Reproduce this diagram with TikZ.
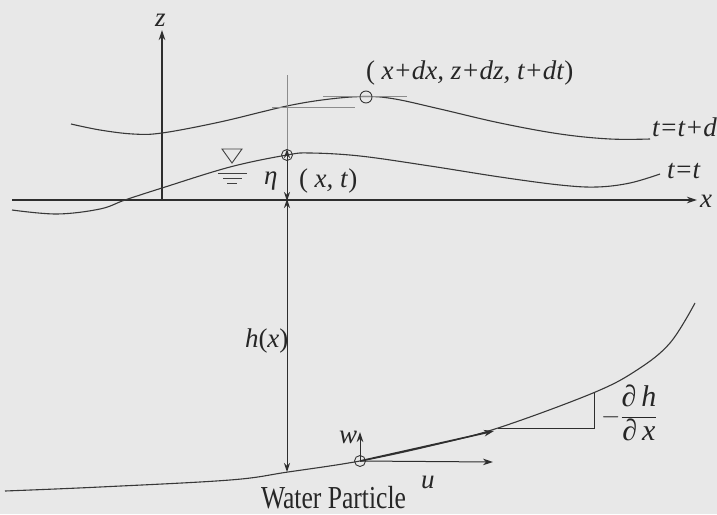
\documentclass[tikz,border=0pt]{standalone}
\usepackage{fontspec}
\setmainfont{Liberation Serif}
\newfontfamily\condfont[FakeStretch=0.8]{Liberation Serif}
\usetikzlibrary{arrows.meta}
\begin{document}
\begin{tikzpicture}[x=1pt,y=-1pt,
  every node/.style={inner sep=0pt,outer sep=0pt,text=black!85},
  lbl/.style={anchor=base west,font=\fontsize{27}{30}\selectfont},
  axisline/.style={draw=black!82,line width=1.3pt},
  wave/.style={draw=black!78,line width=1.1pt},
  thin/.style={draw=black!45,line width=0.5pt},
  tip/.style={-{Stealth[length=10pt,width=6.5pt,inset=3pt]}},
  dtip/.style={{Stealth[length=9pt,width=6pt,inset=3pt]}-{Stealth[length=9pt,width=6pt,inset=3pt]}}]
\fill[black!9] (0,0) rectangle (717,514);
\useasboundingbox (0,0) rectangle (717,514);
% coordinates
\coordinate (Xs) at (12,200);
\coordinate (Xe) at (697,200);
\coordinate (O) at (162,200);
\coordinate (Zt) at (162,30);
\coordinate (P1) at (287,155);
\coordinate (P2) at (366,97);
\coordinate (A) at (287,200);
\coordinate (B) at (287,472);
\coordinate (W) at (360,461);
\coordinate (Wt) at (360,432);
\coordinate (Ut) at (493,462);
\coordinate (Tt) at (494,431);
\coordinate (S1) at (498,428);
\coordinate (S2) at (594,428);
\coordinate (S3) at (594,393);
\coordinate (V0) at (287,75);
% axes
\draw[axisline,tip] (Xs) -- (Xe);
\draw[axisline,tip] (O) -- (Zt);
% waves
\draw[wave] plot[smooth,tension=0.6] coordinates {(71,124) (100,130) (133,134) (162,133) (220,122) (287,106) (330,99) (366,96.5) (395,99) (440,109) (500,123) (560,134) (610,139) (650,139)};
\draw[wave] plot[smooth,tension=0.6] coordinates {(12,210) (57,214) (100,209) (125,200) (162,188) (230,167) (287,155) (310,153) (360,156) (430,166) (500,177) (560,185) (597,187) (630,183) (660,174)};
% seabed
\draw[wave] plot[smooth,tension=0.6] coordinates {(5,491) (100,487) (230,480) (288,472) (360,461) (430,446) (498,428) (593,393) (637,370) (670,343) (695,303)};
% thin guide lines
\draw[thin] (V0) -- (287,149.5);
\draw[thin] (272,107) -- (355,107);
\draw[thin] (323,96) -- (407,96);
% circles
\draw[wave,line width=0.9pt] (P1) circle (5.5);
\draw[wave,line width=0.9pt] (P2) circle (6);
\draw[wave,line width=0.9pt] (W) circle (5.5);
% eta and h arrows
\draw[axisline,line width=1pt,dtip] ([yshift=6pt]P1) -- ([yshift=-1pt]A);
\draw[axisline,line width=1pt,dtip] ([yshift=1pt]A) -- (B);
% water level symbol
\draw[black!75,line width=0.9pt] (222,149) -- (242,149) -- (232,163) -- cycle;
\draw[black!75,line width=0.9pt] (218,173) -- (247,173) (223,178) -- (242,178) (227,183) -- (237,183);
% velocity arrows
\draw[axisline,line width=1pt,tip] (W) -- (Wt);
\draw[axisline,line width=1pt,tip] (W) -- (Ut);
\draw[axisline,line width=1.6pt,tip] (W) -- (Tt);
% slope triangle
\draw[axisline,line width=1pt] (S1) -- (S2) -- (S3);
% labels
\node[lbl] (lz) at (155,27) {\textit{z}};
\node[lbl] (lx) at (700,207) {\textit{x}};
\node[lbl] (ltop) at (366,79) {(\ \textit{x+dx, z+dz, t+dt})};
\node[lbl] (lt2) at (652,136) {\textit{t=t+d}};
\node[lbl] (lt1) at (667,178) {\textit{t=t}};
\node[lbl] (leta) at (264,184) {\textit{η}};
\node[lbl] (lxt) at (299,187) {(\ \textit{x, t})};
\node[lbl] (lh) at (245,347) {\textit{h}(\textit{x})};
\node[lbl] (lw) at (339,443) {\textit{w}};
\node[lbl] (lu) at (421,488) {\textit{u}};
\node[anchor=base west,font=\condfont\fontsize{32}{34}\selectfont] (lwp) at (261,508) {Water Particle};
\node[anchor=west,font=\fontsize{30}{32}\selectfont] (lfrac) at (601,413) {$-\displaystyle\frac{\hbox{∂\,\itshape h}}{\hbox{∂\,\itshape x}}$};
\end{tikzpicture}
\end{document}
